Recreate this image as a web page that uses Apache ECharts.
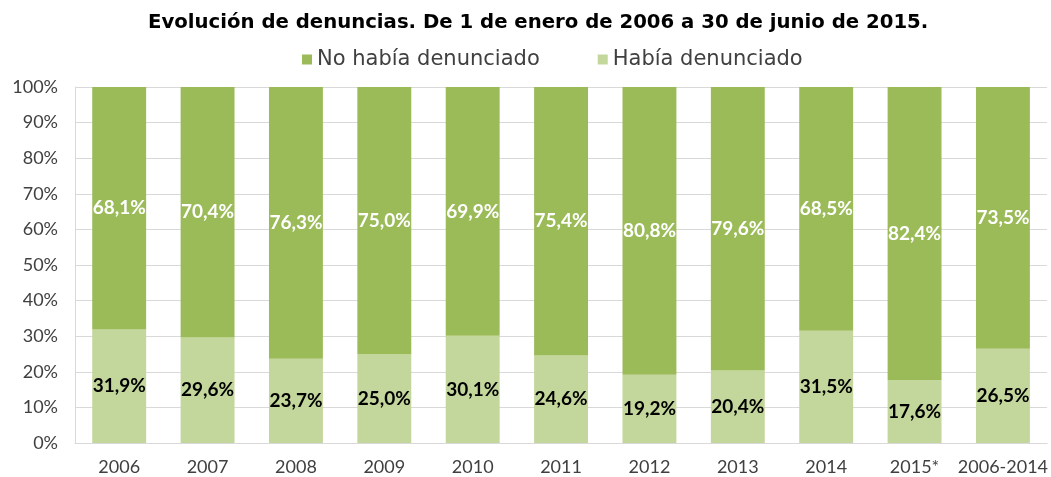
<!DOCTYPE html>
<html><head><meta charset="utf-8">
<script src="https://cdn.jsdelivr.net/npm/echarts@6/dist/echarts.min.js"></script>
<style>html,body{margin:0;padding:0;background:#fff}#c{width:1051px;height:477px}</style>
</head><body><div id="c"></div>
<script>
const categories = ['2006','2007','2008','2009','2010','2011','2012','2013','2014','2015*','2006-2014'];
const habiaDenunciado = [31.9,29.6,23.7,25.0,30.1,24.6,19.2,20.4,31.5,17.6,26.5];
const noHabiaDenunciado = [68.1,70.4,76.3,75.0,69.9,75.4,80.8,79.6,68.5,82.4,73.5];
const titleText = 'Evolución de denuncias. De 1 de enero de 2006 a 30 de junio de 2015.';
const FONT = 'Lato';
const WIDE = 'DejaVu Sans';
const fmt = v => v.toFixed(1).replace('.', ',') + '%';
const chart = echarts.init(document.getElementById('c'));
chart.setOption({
  animation: false,
  title: { text: titleText, left: 143, top: 8,
    textStyle: { fontFamily: WIDE, fontWeight: 'bold', fontSize: 19.7, color: '#000' } },
  legend: { top: 44, left: 297, itemWidth: 10, itemHeight: 10, itemGap: 58, icon: 'rect',
    data: ['No había denunciado', 'Había denunciado'],
    textStyle: { fontFamily: WIDE, fontSize: 21, color: '#404040' } },
  grid: { left: 75, right: 3, top: 87, bottom: 34, containLabel: false },
  xAxis: { type: 'category', data: categories,
    axisLine: { lineStyle: { color: '#d9d9d9' } }, axisTick: { show: false },
    axisLabel: { interval: 0, fontFamily: FONT, fontSize: 18, color: '#404040', margin: 15 } },
  yAxis: { type: 'value', min: 0, max: 100, interval: 10,
    axisLine: { show: true, lineStyle: { color: '#d9d9d9' } },
    splitLine: { lineStyle: { color: '#d9d9d9' } },
    axisLabel: { fontFamily: FONT, fontSize: 18, color: '#404040', formatter: '{value}%', margin: 17 } },
  series: [
    { name: 'Había denunciado', type: 'bar', stack: 's', barWidth: '61%', data: habiaDenunciado,
      itemStyle: { color: '#c3d69b' },
      label: { show: true, position: 'inside', formatter: p => fmt(p.value),
        fontFamily: FONT, fontWeight: 'bold', fontSize: 19, color: '#000' } },
    { name: 'No había denunciado', type: 'bar', stack: 's', barWidth: '61%', data: noHabiaDenunciado,
      itemStyle: { color: '#9bbb59' },
      label: { show: true, position: 'inside', formatter: p => fmt(p.value),
        fontFamily: FONT, fontWeight: 'bold', fontSize: 19, color: '#fff' } }
  ]
});
</script></body></html>
